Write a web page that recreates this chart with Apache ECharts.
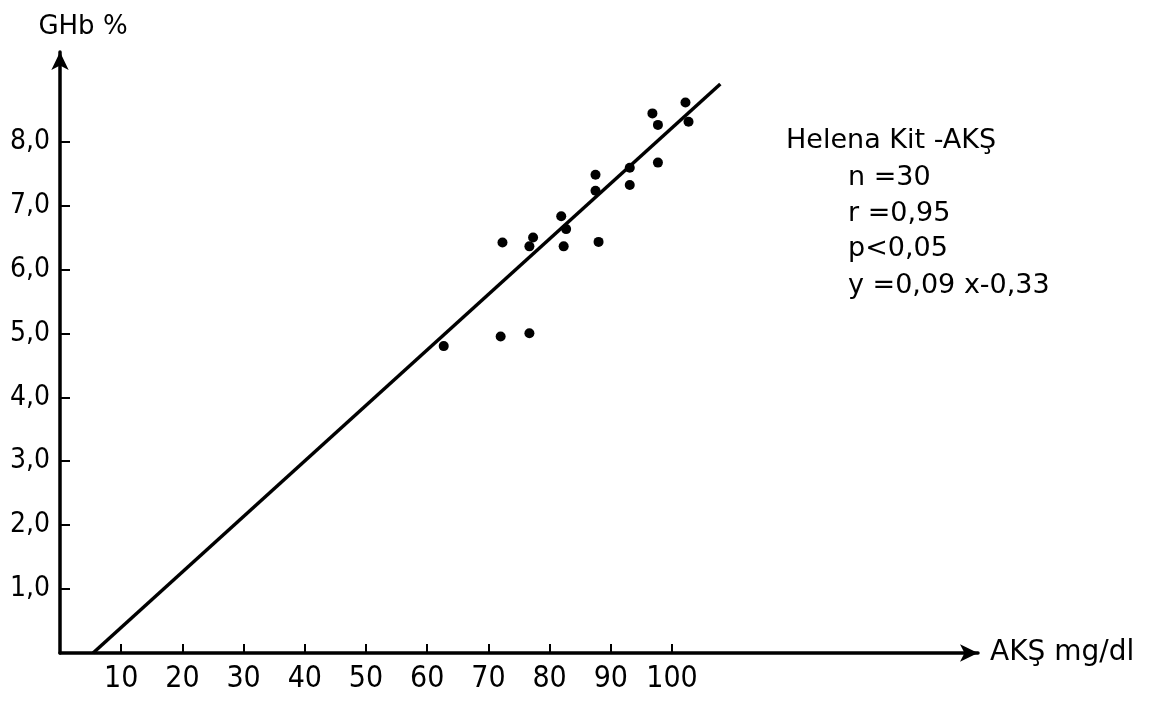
<!DOCTYPE html>
<html>
<head>
<meta charset="utf-8">
<script src="https://cdn.jsdelivr.net/npm/echarts@6/dist/echarts.min.js"></script>
<style>
  html, body { margin: 0; padding: 0; background: #fff; }
  #chart { width: 1174px; height: 706px; }
</style>
</head>
<body>
<div id="chart"></div>
<script>
// scatter points (AKŞ mg/dl, GHb %)
const aksValues = [62.7, 72.0, 76.7, 72.3, 77.3, 76.7, 81.9, 82.7, 82.3, 88.0, 87.5, 87.5, 93.1, 93.1, 97.7, 96.8, 97.7, 102.2, 102.7]
const ghbValues = [4.80, 4.95, 5.00, 6.42, 6.50, 6.36, 6.83, 6.63, 6.36, 6.43, 7.48, 7.23, 7.59, 7.32, 7.67, 8.44, 8.26, 8.61, 8.31]

// regression line as drawn
const lineX = [5.4, 107.9]
const lineY = [0, 8.9]

const xTicks = [10, 20, 30, 40, 50, 60, 70, 80, 90, 100]
const yTicks = [1, 2, 3, 4, 5, 6, 7, 8]
const yTickLabels = ['1,0', '2,0', '3,0', '4,0', '5,0', '6,0', '7,0', '8,0']

const infoLines = ['Helena Kit -AKŞ', 'n =30', 'r =0,95', 'p<0,05', 'y =0,09 x-0,33']

const NARROW = "'DejaVu Sans Condensed', 'DejaVu Sans', sans-serif"
const WIDE = "'DejaVu Sans', sans-serif"
const INK = '#000'

const chart = echarts.init(document.getElementById('chart'))

const points = aksValues.map((x, i) => [x, ghbValues[i]])
const linePts = lineX.map((x, i) => [x, lineY[i]])

const option = {
  backgroundColor: '#fff',
  animation: false,
  grid: { left: 60, right: 196, top: 52, bottom: 53 },
  xAxis: {
    type: 'value',
    min: 0,
    max: 150,
    name: 'AKŞ mg/dl',
    nameLocation: 'end',
    nameGap: 12,
    nameTextStyle: { color: INK, fontSize: 28, fontFamily: WIDE },
    splitLine: { show: false },
    axisLine: {
      show: true,
      symbol: ['none', 'arrow'],
      symbolSize: [13, 18],
      lineStyle: { color: INK, width: 3.5 }
    },
    axisTick: {
      show: true,
      inside: true,
      length: 9,
      customValues: xTicks,
      lineStyle: { color: INK, width: 2 }
    },
    axisLabel: {
      show: true,
      customValues: xTicks,
      margin: 11,
      color: INK,
      fontSize: 30,
      fontFamily: NARROW
    }
  },
  yAxis: {
    type: 'value',
    min: 0,
    max: 9.4,
    name: 'GHb %',
    nameLocation: 'end',
    nameGap: 12,
    nameTextStyle: { color: INK, fontSize: 26, fontFamily: WIDE, padding: [0, 0, 0, 46] },
    splitLine: { show: false },
    axisLine: {
      show: true,
      symbol: ['none', 'arrow'],
      symbolSize: [13, 18],
      lineStyle: { color: INK, width: 3.5 }
    },
    axisTick: {
      show: true,
      inside: true,
      length: 10,
      customValues: yTicks,
      lineStyle: { color: INK, width: 2 }
    },
    axisLabel: {
      show: true,
      customValues: yTicks,
      margin: 10,
      color: INK,
      fontSize: 28,
      fontFamily: NARROW,
      padding: [8, 0, 0, 0],
      formatter: v => yTickLabels[yTicks.indexOf(v)] || ''
    }
  },
  graphic: infoLines.map((t, i) => ({
    type: 'text',
    x: i === 0 ? 786 : 848,
    y: [141, 178, 214, 249, 286][i],
    style: {
      text: t,
      fill: INK,
      font: '27px ' + WIDE,
      verticalAlign: 'middle'
    }
  })),
  series: [
    {
      type: 'line',
      data: linePts,
      showSymbol: false,
      lineStyle: { color: INK, width: 3.5 },
      z: 2
    },
    {
      type: 'scatter',
      data: points,
      symbolSize: 10,
      itemStyle: { color: INK, opacity: 1 },
      z: 3
    }
  ]
}
chart.setOption(option)
</script>
</body>
</html>
